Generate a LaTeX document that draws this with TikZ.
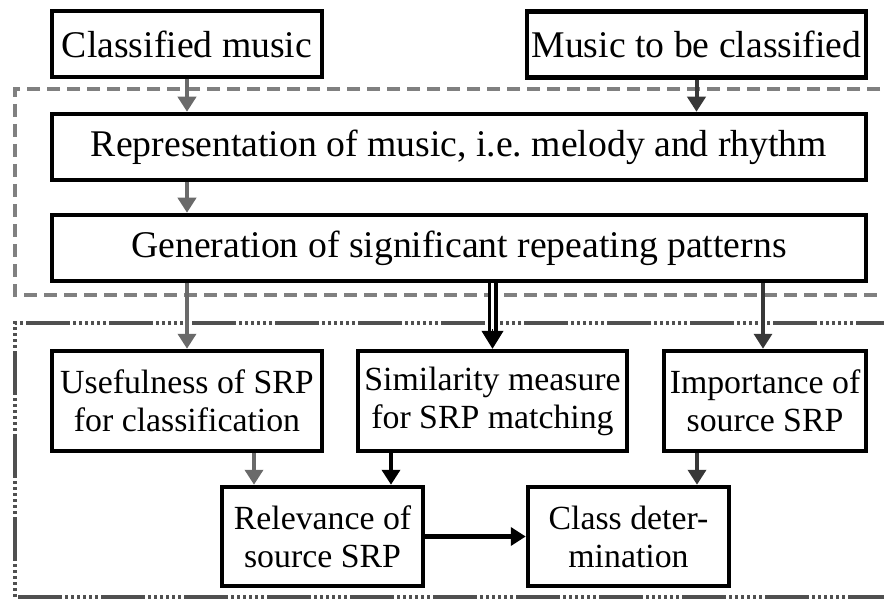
\documentclass[tikz,border=0pt]{standalone}
\usepackage{fontspec}
\setmainfont{Liberation Serif}
\usetikzlibrary{arrows.meta,calc}
\definecolor{gA}{HTML}{6A6A6A}
\definecolor{gB}{HTML}{383838}
\definecolor{gD}{HTML}{808080}
\definecolor{gE}{HTML}{505050}
\tikzset{
  box/.style={draw=black, line width=4.5pt, inner sep=0pt, align=center},
  bigtext/.style={font=\fontsize{37.7}{40}\selectfont},
  smalltext/.style={font=\fontsize{33.8}{38}\selectfont},
  arr/.style={line width=4pt, -{Triangle[length=15pt,width=18pt]}},
}
\begin{document}
\begin{tikzpicture}[x=1pt,y=-1pt]
\useasboundingbox (0,0) rectangle (884,599);
% group frames
\draw[gD, line width=3.6pt, dash pattern=on 13pt off 7pt] (900,89) -- (15,89) -- (15,295) -- (900,295);
\draw[gE, line width=3.4pt, dash pattern=on 44pt off 3pt on 3pt off 3pt on 3pt off 3pt on 3pt off 3pt on 3pt off 3pt on 3pt off 3pt on 3pt off 3pt] (900,323) -- (15,323) -- (15,597) -- (900,597);
% nodes
\node[box,bigtext,minimum width=270pt,minimum height=66pt] (cm) at (187,44) {Classified music};
\node[box,bigtext,minimum width=339pt,minimum height=66pt] (mc) at (696.5,44.5) {Music to be classified};
\node[box,bigtext,minimum width=814pt,minimum height=66pt] (rep) at (459,147) {Representation of music, i.e.\ melody and rhythm};
\node[box,bigtext,minimum width=814pt,minimum height=66pt] (gen) at (459,248) {Generation of significant repeating patterns};
\node[box,smalltext,minimum width=270pt,minimum height=100pt] (use) at (187,401) {Usefulness of SRP\\for classification};
\node[box,smalltext,minimum width=269pt,minimum height=100pt] (sim) at (492.5,401) {Similarity measure\\for SRP matching};
\node[box,smalltext,minimum width=202pt,minimum height=100pt] (imp) at (765,401) {Importance of\\source SRP};
\node[box,smalltext,minimum width=201pt,minimum height=99pt] (rel) at (322.5,536.5) {Relevance of\\source SRP};
\node[box,smalltext,minimum width=201pt,minimum height=99pt] (cls) at (628.5,536.5) {Class deter-\\mination};
% helper coordinates
\coordinate (xu) at (254,0);
\coordinate (xs) at (391,0);
\coordinate (xi) at (697,0);
\coordinate (xg) at (763,0);
% connectors
\draw[arr,gA] (cm.south) -- (cm.south |- rep.north);
\draw[arr,gB] (mc.south) -- (mc.south |- rep.north);
\draw[arr,gA] (rep.south -| cm.south) -- (gen.north -| cm.south);
\draw[arr,gA] (gen.south -| use.north) -- (use.north);
\draw[arr,gB,line width=3.4pt] (gen.south -| xg) -- (imp.north -| xg);
\draw[black,line width=3.4pt,double=white,double distance=3.2pt,shorten >=14pt] (gen.south -| sim.north) -- (sim.north);
\draw[black,line width=1pt,-{Triangle[length=18pt,width=22pt]}] ($(sim.north)+(0,-20)$) -- (sim.north);
\draw[arr,gA] (use.south -| xu) -- (rel.north -| xu);
\draw[arr,black] (sim.south -| xs) -- (rel.north -| xs);
\draw[arr,gB] (imp.south -| xi) -- (cls.north -| xi);
\draw[arr,black,line width=5pt] (rel.east) -- (cls.west);
\end{tikzpicture}
\end{document}
